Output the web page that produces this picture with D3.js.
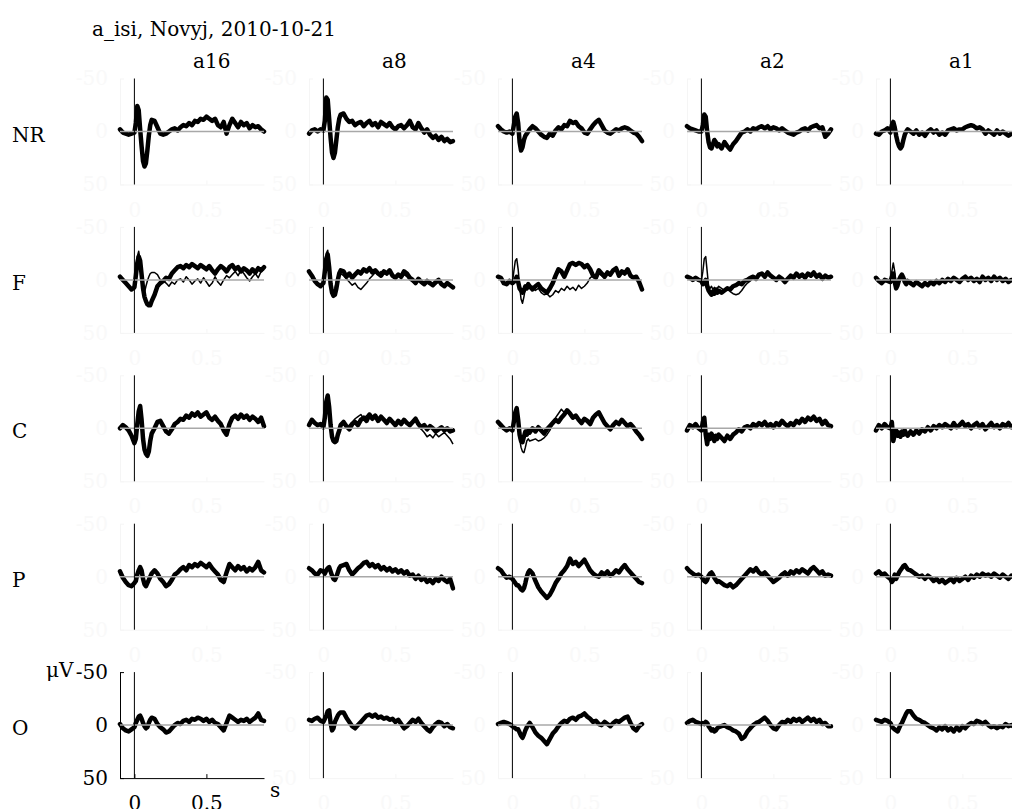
<!DOCTYPE html>
<html>
<head>
<meta charset="utf-8">
<script src="https://cdn.jsdelivr.net/npm/d3@7"></script>
<style>
  body { margin: 0; background: #fff; }
  text { font-family: "DejaVu Serif", "Liberation Serif", serif; }
</style>
</head>
<body>
<svg id="chart" width="1012" height="809"></svg>
<script>
const title = "a_isi, Novyj, 2010-10-21";
const conditions = ["a16", "a8", "a4", "a2", "a1"];
const regions = ["NR", "F", "C", "P", "O"];
const yTicks = [-50, 0, 50];
const xTicks = [0, 0.5];

// sample times (s), denser around the early peaks
const times = [-0.1,-0.08,-0.06,-0.04,-0.02,0,
  0.01,0.02,0.03,0.04,0.05,0.06,0.07,0.08,0.09,0.1,0.11,0.12,
  0.14,0.16,0.18,0.2,0.22,0.24,0.26,0.28,0.3,0.32,0.34,0.36,0.38,0.4,0.42,0.44,0.46,0.48,0.5,
  0.52,0.54,0.56,0.58,0.6,0.62,0.64,0.66,0.68,0.7,0.72,0.74,0.76,0.78,0.8,0.82,0.84,0.86,0.88,0.9];

// thick traces (uV), one per panel
const nrA16 = [-2,1,2,3,2,1, -8,-24,-20,-2,14,28,33,30,18,4,-6,-11, -10,-4,2,3,2,0,-2,-3,-1,-4,-6,-5,-8,-6,-10,-9,-12,-11,-14,-12,-10,-12,-6,-4,-9,2,-6,-12,-8,-4,-9,-6,-8,-3,-6,-4,-5,-2,0];
const nrA8 = [2,-1,-2,0,-2,-1, -10,-32,-30,-12,6,20,25,20,8,-4,-12,-16, -17,-12,-9,-10,-6,-8,-9,-5,-8,-10,-6,-8,-4,-9,-7,-5,-8,-4,-2,-5,-6,-3,-6,-10,-4,-2,-8,-3,1,-2,3,6,4,8,5,9,7,10,9];
const nrA4 = [-5,-2,0,1,0,2, -6,-14,-17,-8,10,18,15,8,4,2,0,-2, -5,-3,0,3,5,6,2,4,-1,-4,-2,-6,-5,-10,-8,-9,-5,-3,1,2,-2,-6,-9,-11,-6,-1,1,2,0,-2,-1,-3,-4,-3,-1,1,2,5,9];
const nrA2 = [-5,-3,-2,-1,0,0, -6,-16,-14,0,10,15,16,12,8,10,14,12, 16,10,14,17,12,9,5,1,0,-2,0,-3,-2,-4,-5,-3,-5,-2,-4,-3,-1,-3,-1,1,2,3,1,0,-2,-3,-1,-4,-5,-6,-3,-4,5,2,-2];
const nrA1 = [2,3,0,-1,-3,1, -6,-9,-4,4,10,14,16,14,8,3,0,-2, 0,2,-1,3,1,4,0,-2,1,-1,3,1,3,-1,-2,-3,-1,-2,-2,-4,-5,-6,-5,-3,-4,-2,2,-1,1,3,-1,2,0,2,4,2,3,1,2];

const fA16 = [-3,0,3,6,9,7, -4,-16,-22,-18,-5,8,16,20,23,24,24,20, 14,6,3,1,-2,-1,-6,-9,-12,-13,-11,-14,-12,-15,-13,-11,-14,-12,-10,-13,-9,-6,-10,-13,-11,-8,-12,-14,-10,-12,-8,-11,-9,-6,-10,-7,-11,-9,-12];
const fA8 = [-8,-4,1,4,6,3, -8,-20,-24,-12,4,12,15,14,8,0,-6,-9, -8,-3,-6,-2,-5,-8,-6,-10,-8,-11,-7,-9,-6,-4,-8,-6,-9,-4,-2,-5,-3,-8,-6,-2,0,3,-1,2,4,1,3,5,2,0,4,6,3,5,7];
const fA4 = [-3,-2,3,4,1,3, 2,0,-3,2,8,10,12,10,6,8,4,6, 9,6,4,8,10,12,8,3,-4,-10,-8,-3,-9,-15,-16,-14,-16,-15,-12,-14,-10,-4,-2,-9,-6,-3,-7,-5,-9,-11,-4,-8,-6,-10,-4,-2,-3,2,9];
const fA2 = [-3,-2,0,-2,0,1, 4,2,0,6,10,12,14,11,13,9,12,10, 12,10,8,9,6,5,3,4,1,0,-2,-3,-1,-5,-6,-3,-7,-4,-2,0,-3,-1,2,-1,-4,-2,-6,-3,-5,-2,-6,-4,-7,-3,-5,-1,-4,-2,-3];
const fA1 = [-2,1,3,0,1,2, -3,-6,2,8,5,0,-3,-5,-2,2,4,1, 3,5,2,4,6,3,5,2,4,1,3,0,2,-1,1,-2,0,2,-1,-3,0,-2,1,-1,2,-3,0,-2,1,-3,0,-2,1,-1,2,0,1,-1,1];

const cA16 = [0,-3,-1,2,7,14, 10,-4,-16,-21,-8,10,20,24,26,22,12,5, 0,-6,-7,-2,3,5,1,-4,-6,-9,-8,-12,-10,-14,-12,-15,-11,-13,-15,-10,-8,-11,-7,-4,2,6,-4,-10,-12,-9,-13,-10,-12,-8,-11,-9,-6,-10,-2];
const cA8 = [-3,-8,-5,-3,-4,-1, -10,-25,-31,-20,-3,8,12,13,12,6,2,-3, -6,-2,1,-4,-6,-3,-8,-10,-7,-13,-9,-12,-7,-11,-8,-5,-9,-6,-3,-7,-4,-8,-5,-3,-6,-9,-4,-1,-3,1,-2,0,3,1,-1,2,0,3,2];
const cA4 = [-6,-3,0,2,0,2, -6,-15,-19,-8,6,12,13,8,3,6,2,4, 0,3,-1,2,5,1,-2,-5,-8,-6,-10,-13,-17,-14,-10,-12,-8,-5,-9,-7,-4,-10,-13,-15,-10,-5,-2,1,-3,-6,-4,-8,-5,-2,-4,-1,3,6,10];
const cA2 = [2,-3,-1,-4,0,2, -6,-10,6,15,6,10,5,8,12,7,10,6, 9,12,7,10,6,4,1,3,-1,-2,0,-4,-2,-5,-3,-6,-2,-4,-1,-5,-3,-7,-4,-2,-5,-3,-7,-5,-9,-6,-10,-8,-11,-7,-9,-4,-7,-3,-2];
const cA1 = [2,-3,0,-4,-1,0, -6,12,6,2,7,4,8,3,6,2,5,7, 3,6,2,5,1,3,-1,2,-2,0,-3,-1,-4,-2,0,-5,-1,-3,-6,-2,-4,0,-3,-5,-1,-4,1,-2,-5,-1,-3,0,-4,-2,-5,-1,-3,0,-2];

const pA16 = [-5,1,5,8,9,6, 4,-2,-6,-9,-6,2,7,9,6,3,0,-3, -6,-3,2,5,9,7,3,-2,-4,-7,-9,-6,-11,-9,-12,-10,-13,-11,-9,-12,-8,-5,-2,3,5,-4,-12,-9,-6,-10,-7,-9,-5,-8,-6,-9,-14,-6,-4];
const pA8 = [-8,-6,-3,-2,-6,-5, -3,-6,-8,-9,-5,-1,2,3,0,-4,-8,-10, -11,-12,-6,-2,-5,-8,-10,-13,-14,-10,-12,-9,-11,-7,-9,-6,-8,-5,-7,-4,-6,-3,-5,-1,-2,2,-1,3,1,5,3,6,2,4,0,3,5,2,11];
const pA4 = [-8,-6,-2,1,0,2, 4,6,8,8,10,12,13,11,6,0,-4,-6, -3,4,10,14,17,20,17,12,6,2,-3,-6,-10,-17,-12,-14,-10,-13,-16,-11,-6,-3,-1,0,-4,-2,-5,-1,-3,-6,-4,-8,-11,-7,-4,-1,2,5,6];
const pA2 = [-8,-5,-3,-1,-2,0, 2,4,5,3,-1,-3,-4,-2,1,3,5,4, 6,8,9,7,10,8,5,2,-1,-4,-7,-5,-8,-4,-2,-4,-1,2,5,3,1,-2,-4,-1,-5,-3,-6,-4,-7,-5,-3,-7,-9,-6,-3,-5,-1,-2,-1];
const pA1 = [-3,-5,-2,-3,0,2, 5,3,-2,2,-1,-4,-6,-8,-10,-11,-9,-7, -6,-4,-2,0,-1,2,-1,1,4,2,5,3,6,4,2,5,1,4,2,0,3,-1,1,-2,0,-3,-1,-2,0,-3,-1,1,-2,0,2,-1,1,0,1];

const oA16 = [-1,3,5,6,4,2, -2,-5,-8,-9,-6,-2,1,3,2,-2,-5,-7, -6,-1,2,4,7,6,3,0,-2,-1,-4,-5,-3,-6,-5,-7,-6,-4,-6,-3,-5,-2,-1,2,5,-2,-9,-7,-5,-3,-5,-4,-6,-3,-5,-7,-11,-5,-4];
const oA8 = [-5,-4,-6,-7,-4,-3, -6,-9,-13,-14,-2,5,3,-3,-6,-9,-11,-12, -12,-7,-3,1,3,0,-3,-6,-9,-10,-8,-10,-7,-8,-6,-7,-5,-6,-3,-5,-1,3,1,-2,-5,-3,-6,-2,1,4,6,2,-1,-3,-2,1,-1,2,3];
const oA4 = [-1,-2,-3,-2,-1,1, 2,3,4,4,7,10,12,9,5,2,0,-2, 2,7,10,12,15,18,13,8,5,1,-2,-4,-3,-6,-7,-5,-8,-9,-11,-8,-6,-3,-4,-1,0,-3,-1,1,-2,-4,-3,-5,-7,-8,-2,3,5,1,-1];
const oA2 = [-2,-4,-5,-3,-2,-1, -2,-1,-3,-2,1,3,5,4,6,5,3,2, 1,0,2,3,5,6,8,13,11,6,3,0,-2,-3,-5,-7,-4,0,3,4,0,-3,-2,-5,-3,-6,-4,-6,-3,-5,-7,-4,-6,-3,-5,-1,-2,1,1];
const oA1 = [-5,-4,-3,-5,-4,-2, 1,3,4,5,6,3,0,-2,-5,-8,-11,-13, -13,-9,-6,-5,-3,-2,0,2,3,5,2,4,1,5,3,6,2,5,1,3,0,-2,-1,-4,-3,-1,-3,0,2,1,3,1,2,-1,1,0,2,1,2];

// thin traces, only where they separate from the thick ones
const fA16Thin = [-3,0,3,6,9,7, -8,-22,-27,-18,0,14,12,6,1,-3,-6,-7, -7,-5,0,1,3,6,2,4,0,-1,2,-3,0,4,1,-1,3,-2,2,6,3,-3,2,5,0,-4,-2,-5,-8,-4,-9,-6,-2,1,-3,-6,-2,-8,-10];
const fA8Thin = [-8,-4,1,4,6,3, -10,-25,-28,-15,2,10,12,8,2,-3,-5,-6, -4,-1,2,5,3,7,9,6,3,-1,-4,-7,-5,-8,-6,-5,-8,-3,-1,-4,-1,-5,-3,0,2,4,1,3,5,3,4,6,4,2,5,7,4,6,8];
const fA4Thin = [-3,-2,3,4,1,3, -8,-18,-20,-10,6,18,22,16,8,4,6,8, 6,10,8,12,14,13,16,14,10,12,8,10,6,9,7,10,5,8,6,3,-2,-4,-1,-6,-4,-2,-6,-4,-8,-10,-3,-7,-5,-9,-3,-1,-2,3,9];
const fA2Thin = [-3,-2,0,-2,0,1, -8,-20,-22,-8,6,8,6,9,7,10,8,6, 8,10,7,11,13,14,13,10,6,3,1,-2,0,-4,-5,-2,-6,-3,-1,1,-2,0,3,0,-3,-1,-5,-2,-4,-1,-5,-3,-6,-2,-4,0,-3,-1,-2];
const fA1Thin = [-2,1,3,0,1,2, -8,-16,-8,6,4,0,-3,-5,-2,2,4,1, 3,5,2,4,6,3,5,2,4,1,3,0,2,-1,1,-2,0,2,-1,-3,0,-2,1,-1,2,-3,0,-2,1,-3,0,-2,1,-1,2,0,1,-1,1];
const cA8Thin = [-3,-8,-5,-3,-4,-1, -10,-25,-31,-20,-3,8,12,13,12,6,2,-3, -4,0,-3,-6,-9,-11,-13,-9,-12,-14,-10,-13,-8,-12,-9,-6,-10,-5,-2,-6,-3,-7,-4,-2,-5,-7,-2,1,4,8,6,9,5,8,6,4,7,10,15];
const cA4Thin = [-6,-3,0,2,0,2, -6,-14,-17,-5,10,18,22,23,18,12,10,12, 11,10,12,11,9,6,2,-4,-10,-14,-18,-15,-16,-12,-9,-11,-7,-4,-8,-6,-3,-9,-12,-14,-9,-4,-1,2,-2,-5,-3,-7,-4,-1,-3,0,4,7,11];

const thick = [
  [nrA16, nrA8, nrA4, nrA2, nrA1],
  [fA16, fA8, fA4, fA2, fA1],
  [cA16, cA8, cA4, cA2, cA1],
  [pA16, pA8, pA4, pA2, pA1],
  [oA16, oA8, oA4, oA2, oA1]
];
const thin = [
  [null, null, null, null, null],
  [fA16Thin, fA8Thin, fA4Thin, fA2Thin, fA1Thin],
  [null, cA8Thin, cA4Thin, null, null],
  [null, null, null, null, null],
  [null, null, null, null, null]
];

const svg = d3.select("#chart");
const panelW = 144, panelH = 106;
const left0 = 120, colStep = 189;
const top0 = 78.5, rowStep = 148.4;
const fs = 20;
const faintLine = "#f5f5f5", faintText = "#f9f9f9";

const x = d3.scaleLinear().domain([-0.1, 0.9]).range([0, panelW]);
const y = d3.scaleLinear().domain([-50, 50]).range([0, panelH]);

const line = d3.line()
    .x((d, i) => x(times[i]))
    .y(d => y(d));

svg.append("text")
   .attr("x", 92).attr("y", 36)
   .attr("font-size", fs)
   .text(title);

conditions.forEach((c, ci) => {
    svg.append("text")
       .attr("x", left0 + ci * colStep + 73)
       .attr("y", 68)
       .attr("font-size", fs)
       .text(c);
});

regions.forEach((r, ri) => {
    let top = top0 + ri * rowStep;
    svg.append("text")
       .attr("x", 12)
       .attr("y", top + y(0) + 10)
       .attr("font-size", fs)
       .text(r);

    conditions.forEach((c, ci) => {
        let g = svg.append("g")
            .attr("transform", `translate(${left0 + ci * colStep},${top})`);
        let shown = (ri === regions.length - 1 && ci === 0);

        let ay = g.append("g")
            .call(d3.axisLeft(y).tickValues(yTicks).tickSizeInner(-4).tickSizeOuter(0)
                  .tickPadding(12).tickFormat(d => String(d)));
        let ax = g.append("g")
            .attr("transform", `translate(0,${panelH})`)
            .call(d3.axisBottom(x).tickValues(xTicks).tickSizeInner(-4).tickSizeOuter(0)
                  .tickPadding(18).tickFormat(d => String(d)));
        [ax, ay].forEach(a => {
            a.selectAll("path, line").attr("stroke", shown ? "#000" : faintLine);
            a.selectAll("text").attr("fill", shown ? "#000" : faintText)
             .attr("font-size", fs)
             .attr("font-family", '"DejaVu Serif", serif');
        });

        let t2 = thin[ri][ci];
        g.append("path")
         .datum(thick[ri][ci])
         .attr("d", line)
         .attr("fill", "none")
         .attr("stroke", "#000")
         .attr("stroke-width", 4.5)
         .attr("stroke-linejoin", "round")
         .attr("stroke-linecap", "round");
        if (t2) {
            g.append("path")
             .datum(t2)
             .attr("d", line)
             .attr("fill", "none")
             .attr("stroke", "#000")
             .attr("stroke-width", 1.5)
             .attr("stroke-linejoin", "round");
        }

        g.append("line")
         .attr("x1", x(-0.1)).attr("x2", x(0.9))
         .attr("y1", y(0)).attr("y2", y(0))
         .attr("stroke", "#a8a8a8")
         .attr("stroke-width", 1.5);
        g.append("line")
         .attr("x1", x(0)).attr("x2", x(0))
         .attr("y1", 0).attr("y2", panelH)
         .attr("stroke", "#000")
         .attr("stroke-width", 1);

        if (shown) {
            g.append("text")
             .attr("x", -74).attr("y", 5)
             .attr("font-size", fs)
             .text("μV");
            g.append("text")
             .attr("x", panelW + 6).attr("y", panelH + 19)
             .attr("font-size", fs)
             .text("s");
        }
    });
});
</script>
</body>
</html>
